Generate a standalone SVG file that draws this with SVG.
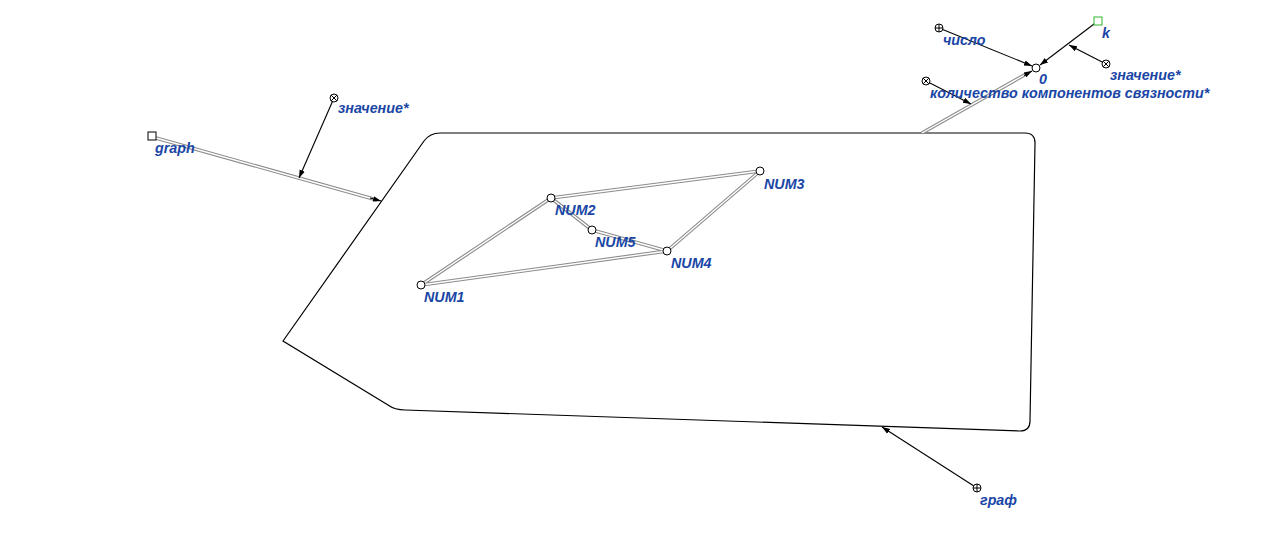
<svg xmlns="http://www.w3.org/2000/svg" width="1280" height="558" viewBox="0 0 1280 558">
<style>
.lbl{font-family:"Liberation Sans",Arial,sans-serif;font-size:14.3px;font-weight:bold;font-style:italic;fill:#1a46a6}
.arr{stroke:#000;stroke-width:1.1;fill:none;marker-end:url(#ah)}
.dbo{stroke:#8c8c8c;stroke-width:3.6;fill:none}
.dbi{stroke:#fff;stroke-width:1.4;fill:none}
.nd{fill:#fff;stroke:#000;stroke-width:1}
</style>
<defs>
<marker id="ah" viewBox="0 0 10 10" refX="10" refY="5" markerWidth="8" markerHeight="8" markerUnits="userSpaceOnUse" orient="auto">
<path d="M0,1.5 L10,5 L0,8.5 Z" fill="#000"/>
</marker>
</defs>
<rect width="1280" height="558" fill="#fff"/>
<g id="contour">
<path d="M283,341 L424,141 Q430,133 440,133 L1025,133 Q1035,133 1035,143 L1030,421 Q1030,431 1020,431 L405,410 Q395,410 388,405 Z" fill="none" stroke="#000" stroke-width="1.2"/>
</g>
<g id="connectors">
<g id="edges">
<path class="dbo" d="M421,285 L551,198 M421,285 L667,251 M551,198 L760,171 M760,171 L667,251 M551,198 L592,230 M592,230 L667,251"/>
<path class="dbi" d="M421,285 L551,198 M421,285 L667,251 M551,198 L760,171 M760,171 L667,251 M551,198 L592,230 M592,230 L667,251"/>
</g>
<path class="dbo" d="M156,138 L377,200"/>
<path class="dbi" d="M156,138 L377,200"/>
<path class="arr" d="M370,198 L381,201"/>
<path class="arr" d="M334,98 L299,178"/>
<path class="dbo" d="M922,133 L1028,73"/>
<path class="dbi" d="M922,133 L1028,73"/>
<path class="arr" d="M1024,75.5 L1032,71"/>
<path class="arr" d="M926,81 L971,104"/>
<path class="arr" d="M939,28 L1032,66"/>
<path class="arr" d="M1098,21 L1040,65"/>
<path class="arr" d="M1106,64 L1069,45"/>
<path class="arr" d="M977,488 L882,427"/>
</g>
<g id="NUM1"><circle class="nd" cx="421" cy="285" r="4"/><text class="lbl" x="424" y="302">NUM1</text></g>
<g id="NUM2"><circle class="nd" cx="551" cy="198" r="4"/><text class="lbl" x="555" y="215">NUM2</text></g>
<g id="NUM3"><circle class="nd" cx="760" cy="171" r="4"/><text class="lbl" x="764" y="189">NUM3</text></g>
<g id="NUM4"><circle class="nd" cx="667" cy="251" r="4"/><text class="lbl" x="671" y="268">NUM4</text></g>
<g id="NUM5"><circle class="nd" cx="592" cy="230" r="4"/><text class="lbl" x="595" y="247">NUM5</text></g>
<g id="graph"><rect x="148" y="132" width="8" height="8" fill="#fff" stroke="#000"/><text class="lbl" x="155" y="153">graph</text></g>
<g id="znachenie1"><circle class="nd" cx="334" cy="98" r="4"/><path d="M331.2,95.2 L336.8,100.8 M336.8,95.2 L331.2,100.8" stroke="#000" stroke-width="1"/><text class="lbl" x="338" y="113">значение*</text></g>
<g id="graf"><circle class="nd" cx="977" cy="488" r="4"/><path d="M973,488 L981,488 M977,484 L977,492" stroke="#000" stroke-width="1"/><text class="lbl" x="980" y="505">граф</text></g>
<g id="chislo"><circle class="nd" cx="939" cy="28" r="4"/><path d="M935,28 L943,28 M939,24 L939,32" stroke="#000" stroke-width="1"/><text class="lbl" x="943" y="45">число</text></g>
<g id="k"><rect x="1094" y="17" width="8" height="8" fill="#fff" stroke="#2db82d"/><text class="lbl" x="1102" y="38">k</text></g>
<g id="zero"><circle class="nd" cx="1036" cy="68" r="4"/><text class="lbl" x="1039" y="84">0</text></g>
<g id="znachenie2"><circle class="nd" cx="1106" cy="64" r="4"/><path d="M1103.2,61.2 L1108.8,66.8 M1108.8,61.2 L1103.2,66.8" stroke="#000" stroke-width="1"/><text class="lbl" x="1110" y="80">значение*</text></g>
<g id="kolichestvo"><circle class="nd" cx="926" cy="81" r="4"/><path d="M923.2,78.2 L928.8,83.8 M928.8,78.2 L923.2,83.8" stroke="#000" stroke-width="1"/><text class="lbl" x="930" y="98">количество компонентов связности*</text></g>
</svg>
